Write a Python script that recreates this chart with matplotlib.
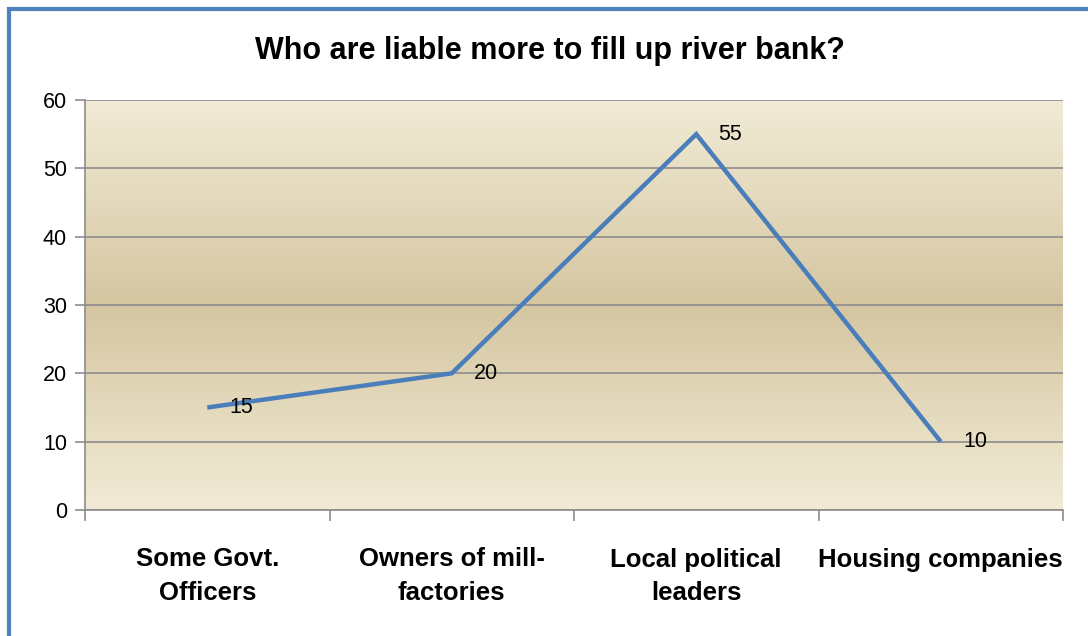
import numpy as np
import matplotlib
matplotlib.use("Agg")
import matplotlib.pyplot as plt
from matplotlib.colors import LinearSegmentedColormap
from matplotlib.patches import Rectangle

categories = ["Some Govt.\nOfficers", "Owners of mill-\nfactories", "Local political\nleaders", "Housing companies"]
values = [15, 20, 55, 10]
yticks = [0, 10, 20, 30, 40, 50, 60]
title = "Who are liable more to fill up river bank?"

W, H = 1088, 636
fig = plt.figure(figsize=(W/100, H/100), dpi=100)
fig.patch.set_facecolor("white")

x0, x1, yt, yb = 85, 1063, 100, 510
ax = fig.add_axes([x0/W, 1-yb/H, (x1-x0)/W, (yb-yt)/H])

# gradient background
cmap = LinearSegmentedColormap.from_list("g", [(0, "#F1EBD6"), (0.5, "#D5C6A1"), (1, "#F1EBD6")])
grad = np.linspace(0, 1, 256).reshape(-1, 1)
ax.imshow(grad, aspect="auto", cmap=cmap, extent=[-0.5, 3.5, 0, 60], zorder=0, interpolation="bicubic")

xs = np.arange(len(categories))
ax.plot(xs, values, color="#4A7EBB", lw=3.2, solid_capstyle="butt", solid_joinstyle="miter", zorder=3)
for x, v in zip(xs, values):
    ax.annotate(str(v), (x, v), xytext=(16, 0), textcoords="offset points",
                ha="left", va="center", fontsize=15.5, family="Liberation Sans", color="black", zorder=4)

ax.set_xlim(-0.5, 3.5)
ax.set_ylim(0, 60)
ax.set_yticks(yticks)
ax.set_yticklabels([str(t) for t in yticks], fontsize=15.5, family="Liberation Sans")
ax.yaxis.grid(True, color="#8C8C8C", lw=1.2, zorder=1)
ax.set_axisbelow(False)

ax.set_xticks([-0.5, 0.5, 1.5, 2.5, 3.5])
ax.set_xticklabels([])
ax.set_xticks(xs, minor=True)
ax.set_xticklabels(categories, minor=True, fontsize=18.5, fontweight="bold", family="Liberation Sans", linespacing=1.5)
ax.tick_params(axis="x", which="minor", length=0, pad=27)
ax.tick_params(axis="x", which="major", length=8, color="#8C8C8C", width=1.2, direction="out")
ax.tick_params(axis="y", length=7, color="#8C8C8C", width=1.2, direction="out", pad=6)

for s in ["top", "right"]:
    ax.spines[s].set_visible(False)
for s in ["left", "bottom"]:
    ax.spines[s].set_color("#8C8C8C")
    ax.spines[s].set_linewidth(1.2)

fig.text(550/W, 1-51/H, title, ha="center", va="center", fontsize=22, fontweight="bold", family="Liberation Sans")

# chart border (top and left visible)
fig.patches.append(Rectangle((9/W, -0.1), 1.2, 1-9/H+0.1, transform=fig.transFigure,
                             fill=False, edgecolor="#4F81BD", lw=3, zorder=10))

fig.savefig("out.png", dpi=100)
